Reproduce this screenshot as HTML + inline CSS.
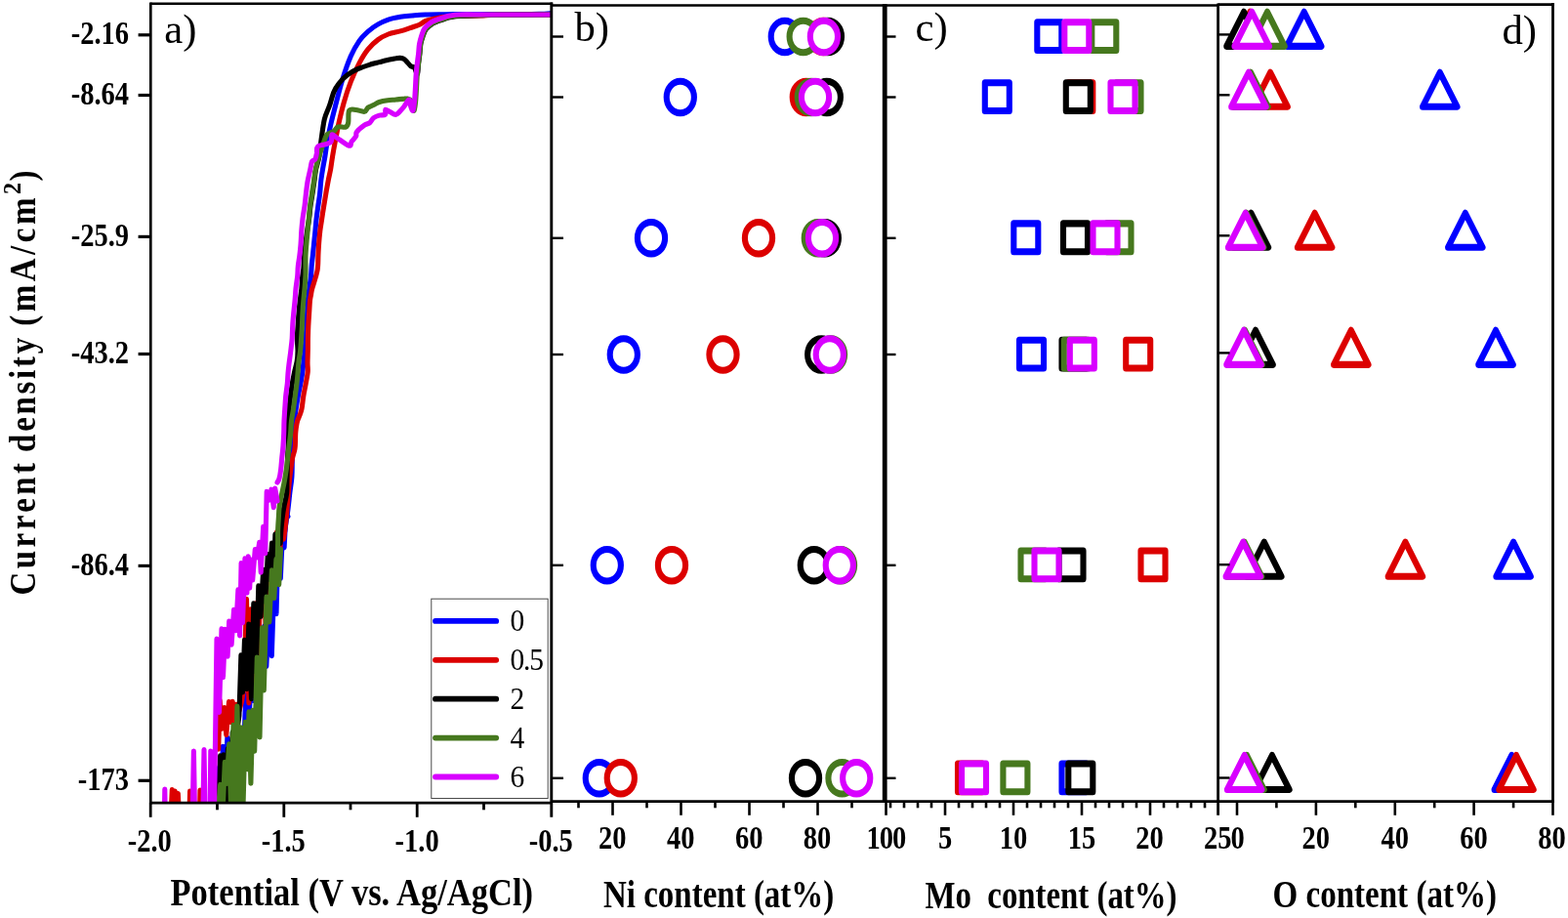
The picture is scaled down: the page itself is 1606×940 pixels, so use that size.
<!DOCTYPE html>
<html lang="en">
<head>
<meta charset="utf-8">
<title>Current density vs potential and Ni, Mo, O content</title>
<style>
html,body{margin:0;padding:0;background:#fff;}
body{width:1606px;height:940px;overflow:hidden;}
svg{display:block;}
</style>
</head>
<body>
<svg width="1606" height="940" viewBox="0 0 1606 940">
<rect width="1606" height="940" fill="#ffffff"/>
<clipPath id="ca"><rect x="154.3" y="0" width="410.5" height="821.5"/></clipPath>
<g clip-path="url(#ca)" fill="none" stroke-width="5.1" stroke-linejoin="round" stroke-linecap="round">
<path d="M566 13.6 C563.7 13.7 559.7 14.2 552 14.4 C544.3 14.6 532 14.6 520 14.7 C508 14.8 490.5 14.7 480 14.7 C469.5 14.7 464.4 14.6 457 14.7 C449.6 14.8 441.3 14.8 435.5 15 C429.7 15.2 426.4 15.6 422.1 16 C417.9 16.4 414.1 16.6 410 17.3 C405.9 18 401.5 18.8 397.7 20.1 C393.9 21.4 390.7 22.9 387.2 24.9 C383.7 26.9 380 29.5 376.8 32.3 C373.6 35.1 370.9 37.7 368 41.9 C365.1 46.1 362.2 50.9 359.3 57.6 C356.4 64.3 353.2 73.6 350.6 82 C348 90.4 345.6 100.4 343.6 108.2 C341.6 116 339.8 122.7 338.4 129.1 C336.9 135.5 335.8 141.3 334.9 146.5 C334 151.7 333.6 155.6 332.9 160 C332.2 164.4 331.3 168.6 330.6 172.8 C329.9 177.1 329.2 181.2 328.7 185.5 C328.2 189.8 328.1 194.1 327.6 198.3 C327.1 202.6 326.4 206.8 325.8 211 C325.2 215.2 324.6 219.6 324.1 223.8 C323.6 228.1 323.3 232.2 322.9 236.5 C322.5 240.8 322 245.1 321.6 249.3 C321.2 253.6 320.7 258.2 320.3 262 C319.9 265.8 319.5 268.5 319.2 272 C318.9 275.5 318.9 278.9 318.5 282.8 C318.1 286.7 317.3 291.2 316.8 295.5 C316.3 299.8 315.7 304.1 315.3 308.3 C314.9 312.6 314.8 316.8 314.6 321 C314.4 325.2 314.2 329.6 314 333.8 C313.8 338.1 313.4 342.2 313.1 346.5 C312.8 350.8 312.5 355.1 312.1 359.3 C311.7 363.6 311.2 368.2 310.8 372 C310.4 375.8 310.2 378.5 309.7 382 C309.2 385.5 308.5 388.9 307.8 392.8 C307.1 396.7 306.1 401.2 305.3 405.5 C304.5 409.8 303.9 414.1 303.2 418.3 C302.5 422.6 301.9 426.8 301.4 431 C300.9 435.2 300.5 437.3 300.2 443.8 C299.9 450.3 299.5 462.6 299.3 470 C299.1 477.4 299.3 482.6 298.9 488.4 C298.5 494.2 297.5 498.9 296.8 505 C296.1 511.1 295.4 518.3 294.5 525 C293.6 531.7 292.5 538.5 291.5 545 C290.5 551.5 289 560.8 288.5 564" stroke="#0000ff"/>
<path d="M222 825.3 L224.5 785.9 L226.7 822.7 L228.3 764.4 L230.5 805.2 L232.9 755.2 L235.7 803.5 L238.5 754.2 L240 824.9 L242.2 741.6 L244.4 785.5 L246.7 748.4 L249.3 777.2 L251.8 711.1 L254.4 748.4 L257.1 697.1 L259.5 717.4 L261.6 681.9 L264 693 L266.2 661.2 L268.3 681.5 L270.8 641.1 L272.8 682.5 L275.7 618.6 L278.3 671.6 L281.1 587.3 L283 628.7 L284.6 569.5 L287.3 592.3 L289.5 544.2 L291.1 560.7 L292.9 525.6 L294.9 528.9" stroke="#0000ff"/>
<path d="M566 15 C556.7 15 522.3 15 510 15.2 C497.7 15.4 498.7 15.8 492 16 C485.3 16.2 476.2 16 470 16.2 C463.8 16.4 459.7 16.6 455 17.2 C450.3 17.8 445.2 19.1 442 19.8 C438.8 20.6 437.6 20.8 435.5 21.7 C433.4 22.6 431.7 24.4 429.1 25.5 C426.5 26.6 423.2 27.5 420 28.6 C416.8 29.7 413.7 30.8 410 31.9 C406.3 33 401.5 33.5 397.7 35 C393.9 36.5 390.7 38 387.2 40.6 C383.7 43.2 380 46.6 376.8 50.6 C373.6 54.6 370.9 59.1 368 64.6 C365.1 70.1 361.9 77 359.3 83.7 C356.7 90.4 354.3 97.7 352.3 104.7 C350.3 111.7 348.7 118.5 347.1 125.6 C345.5 132.7 344 141.3 342.9 147 C341.8 152.7 341.3 155.7 340.6 160 C339.9 164.3 339.4 168.6 338.7 172.8 C337.9 177.1 336.9 181.2 336.1 185.5 C335.3 189.8 334.5 194.1 333.8 198.3 C333.1 202.6 332.4 206.8 331.7 211 C331 215.2 330.3 219.6 329.7 223.8 C329.1 228.1 328.3 232.2 327.8 236.5 C327.3 240.8 326.9 245.1 326.6 249.3 C326.3 253.6 326 258.6 325.9 262 C325.8 265.4 325.8 267.7 325.7 270 C325.6 272.3 325.5 273.9 325.2 276 C324.9 278.1 324.5 279.6 323.6 282.8 C322.7 286.1 320.6 292.3 319.7 295.5 C318.8 298.7 318.9 299.8 318.5 301.9 C318.1 304 317.7 305.1 317.4 308.3 C317.1 311.5 316.9 316.8 316.6 321 C316.3 325.2 316 329.6 315.8 333.8 C315.6 338.1 315.5 342.2 315.4 346.5 C315.3 350.8 315.4 355.1 315.3 359.3 C315.2 363.6 315 368.4 315 372 C315 375.6 315.5 377.5 315.2 381 C314.9 384.5 313.9 388.7 313.2 392.8 C312.5 396.9 311.5 401.2 310.8 405.5 C310.1 409.8 309.7 415.1 309.1 418.3 C308.5 421.5 307.9 422.5 307.2 424.6 C306.4 426.7 305.2 428.9 304.6 431 C304 433.1 303.7 435.3 303.4 437.4 C303.1 439.5 302.9 440.6 302.7 443.8 C302.5 447 302.5 453.5 302.3 456.5 C302.1 459.5 302 459.9 301.5 462 C301 464.1 300.1 466.1 299.5 469.3 C298.9 472.5 298.3 477.1 297.8 481 C297.3 484.9 296.8 488.8 296.4 492.8 C296 496.8 295.7 500.8 295.3 505 C294.9 509.2 294.6 514 294.2 518.3 C293.8 522.6 293.6 526.8 293.2 531 C292.8 535.2 292.1 540.3 291.7 543.8 C291.2 547.3 290.7 550.6 290.5 552" stroke="#dc0000"/>
<path d="M223.7 767.2 L225.2 717.3 L227.6 746.2 L229.9 724.6 L231.8 752.5 L234.5 718.6 L236.3 739.5 L238.2 718.4 L240.3 738.8 L242.2 721.4 L244.9 727.9 L247.4 719 L249.8 705 L252.5 613.3 L254.9 719.9 L257 623.7 L259.5 699.7 L262.1 617.9 L264.7 672.8 L266.5 607.6 L268.2 629.9 L270 593.8 L272.1 638.9 L274.3 580 L277 593.7 L279.4 566.8 L280.9 594 L283.5 544.8 L286 572 L288 547.3 L289.7 552 L291.2 539.9" stroke="#dc0000"/>
<path d="M175.5 826.0 L176.3 808.5 L178 826.0 L179.2 810 L181 826.0 L182.3 812.5 L183 826.0" stroke="#dc0000"/>
<path d="M194.2 826 L194.6 810 L195 826" stroke="#dc0000"/>
<path d="M204.7 826 L205 809 L205.3 826" stroke="#dc0000"/>
<path d="M566 15 C555 15.1 515.8 15.2 500 15.4 C484.2 15.7 477.4 16.1 471.1 16.5 C464.8 16.9 464.7 17.2 462.1 17.6 C459.6 18.1 457.9 18.6 455.8 19.2 C453.7 19.8 451.5 20.6 449.4 21.4 C447.3 22.2 445.2 22.6 443 24.1 C440.8 25.6 437.8 28 436.1 30.2 C434.5 32.4 434 34.8 433.1 37.2 C432.2 39.7 431.4 41.9 430.9 44.9 C430.4 47.9 430.3 51.7 429.9 55.2 C429.5 58.8 428.9 62.8 428.5 66.2 C428.1 69.6 428.2 75.3 427.5 75.8 C426.8 76.3 425.4 70.5 424.3 69.2 C423.2 67.9 422 68.8 420.9 67.9 C419.8 67.1 418.6 65.3 417.5 64.1 C416.4 62.9 415.4 61.4 414.1 60.6 C412.8 59.8 411.2 59.5 409.8 59.4 C408.4 59.3 407.7 59.4 405.6 59.8 C403.5 60.1 399.9 60.9 397 61.5 C394.1 62.1 391.3 62.9 388.5 63.6 C385.7 64.3 383.7 64.6 380 65.8 C376.3 67 370.3 68.9 366.3 70.7 C362.3 72.5 359 74.3 355.8 76.8 C352.6 79.3 349.4 82.6 347.1 85.5 C344.8 88.4 343.5 90.4 341.9 94.2 C340.3 98 339.1 103.6 337.5 108.2 C335.9 112.8 333.8 116 332.3 122.1 C330.9 128.2 329.7 138.5 328.8 144.8 C327.9 151.1 327.9 155.3 327 160 C326.1 164.7 324.6 168.6 323.7 172.8 C322.8 177.1 322.5 181.2 321.9 185.5 C321.3 189.8 320.6 194.1 320 198.3 C319.4 202.6 318.6 206.8 318 211 C317.4 215.2 317.2 219.6 316.6 223.8 C316 228.1 315.2 232.2 314.6 236.5 C314 240.8 313.5 245.1 313 249.3 C312.5 253.6 312 257.8 311.6 262 C311.2 266.2 311.2 271.1 310.9 274.8 C310.6 278.5 309.9 280.6 309.6 284 C309.3 287.4 309.3 291.4 308.9 295.5 C308.5 299.6 307.7 304.1 307.2 308.3 C306.7 312.6 306.4 316.8 306 321 C305.6 325.2 305.4 329.6 305.1 333.8 C304.8 338.1 304.4 342.2 304.4 346.5 C304.4 350.8 305 355.4 305 359.3 C305 363.2 304.8 366.4 304.2 370 C303.6 373.6 302.4 377.2 301.6 381 C300.8 384.8 300 388.7 299.3 392.8 C298.6 396.9 298.2 401.2 297.6 405.5 C297.1 409.8 296.4 414.1 296 418.3 C295.6 422.6 295.6 426.8 295.5 431 C295.4 435.2 295.2 439.6 295.1 443.8 C295.1 448.1 295.3 452.2 295.2 456.5 C295.1 460.8 294.7 465.1 294.5 469.3 C294.3 473.6 294.3 477.9 294.2 482 C294.1 486.1 294 490.1 293.9 494 C293.8 497.9 294.1 501.4 293.6 505.5 C293.1 509.6 291.8 514 291 518.3 C290.2 522.5 289.6 526.8 289.1 531 C288.6 535.2 288.1 539.5 287.8 543.8 C287.5 548 287.3 554.4 287.2 556.5" stroke="#000000"/>
<path d="M223.7 824.8 L225.6 773.8 L227.2 825.9 L229 772.7 L231 821.8 L233.3 766.6 L235.9 823.4 L238.2 749.8 L240.4 790.8 L242.5 750.3 L244.9 733 L246.9 670.8 L248.5 708.9 L250.5 655.2 L252.6 705.6 L254.8 639 L257.5 715.7 L259.8 617.9 L262.5 687.9 L264.8 599.9 L267 631.4 L269.7 583 L271.7 616.3 L274.3 567.5 L275.8 593.4 L278.5 556.1 L280.4 596.9 L281.9 547.1 L284.1 558 L286 540.1" stroke="#000000"/>
<path d="M566 15 C555 15 515.9 15 500 15.2 C484.1 15.4 477.2 15.7 470.9 16 C464.5 16.3 464.4 16.7 461.9 17.1 C459.3 17.6 457.7 18.1 455.6 18.7 C453.5 19.3 451.3 20.1 449.2 20.9 C447.1 21.7 445 22.1 442.8 23.6 C440.6 25.1 437.5 27.5 435.9 29.7 C434.2 31.9 433.8 34.2 432.9 36.7 C432 39.2 431.2 41.8 430.7 44.9 C430.2 48 430.1 51.7 429.7 55.2 C429.3 58.8 428.7 62.8 428.3 66.2 C427.9 69.6 427.6 71.4 427.3 75.8 C427 80.2 426.7 87.9 426.4 92.8 C426.1 97.7 425.9 101.8 425.5 105.2 C425.1 108.6 424.7 112.9 424.1 113.4 C423.5 113.9 422.6 109.8 422 108 C421.4 106.2 421.4 103.7 420.6 102.5 C419.9 101.3 418.6 101.3 417.5 101.1 C416.4 100.9 416.1 100.9 414.1 101.1 C412.1 101.2 408.5 101.7 405.6 102 C402.8 102.3 399.9 102.4 397 102.8 C394.1 103.2 390.7 103.8 388.5 104.5 C386.3 105.2 385.1 106.3 383.7 107 C382.3 107.7 381.1 108.3 380 108.8 C378.9 109.3 377.9 109.3 376.8 110.2 C375.7 111.1 375.3 113.9 373.3 114.3 C371.3 114.7 367.2 112.7 364.6 112.5 C362 112.3 358.9 111.2 357.6 113.4 C356.3 115.6 357.3 122.8 356.7 125.6 C356.1 128.4 355.9 129.3 354.1 130 C352.4 130.7 348.2 129.3 346.2 130 C344.2 130.7 343.8 133 341.9 134.3 C340 135.6 336.6 135.9 334.9 137.8 C333.2 139.8 332.9 142.3 331.5 146 C330.1 149.7 328.2 155.5 326.8 160 C325.4 164.5 324.3 168.6 323.4 172.8 C322.5 177.1 322.1 181.2 321.5 185.5 C320.9 189.8 320.1 194.1 319.5 198.3 C318.9 202.6 318.1 206.8 317.6 211 C317.1 215.2 316.8 219.6 316.4 223.8 C316 228.1 315.5 232.2 315.1 236.5 C314.7 240.8 314.2 245.1 313.9 249.3 C313.5 253.6 313.1 257.8 313 262 C312.9 266.2 313 271.3 313 274.8 C313 278.3 313.1 279.4 312.9 282.8 C312.7 286.2 312.4 291.2 312 295.5 C311.6 299.8 311.2 304.1 310.8 308.3 C310.4 312.6 310.1 316.8 309.9 321 C309.7 325.2 309.6 329.6 309.4 333.8 C309.2 338.1 308.9 342.2 308.6 346.5 C308.3 350.8 308.1 355.1 307.6 359.3 C307.1 363.6 306.2 368.1 305.8 372 C305.4 375.9 305.3 379 305 382.5 C304.7 386 304.4 389 304 392.8 C303.6 396.6 302.9 401.2 302.3 405.5 C301.7 409.8 301.2 414.1 300.6 418.3 C300 422.6 299 426.8 298.5 431 C298 435.2 298 439.6 297.6 443.8 C297.2 448.1 296.6 452.2 296.1 456.5 C295.6 460.8 295.2 465.2 294.7 469.3 C294.2 473.4 293.8 477.1 293.2 481 C292.6 484.9 292.1 488.7 291.3 492.8 C290.6 496.9 289.6 501.2 288.7 505.5 C287.8 509.8 286.8 514 286.2 518.3 C285.6 522.5 285.6 526.8 285.3 531 C285 535.2 284.7 539.5 284.6 543.8 C284.5 548 284.7 552.2 284.6 556.5 C284.6 560.8 284.3 566 284.3 569.3 C284.3 572.5 284.5 574.9 284.5 576" stroke="#46781e"/>
<path d="M224 822.2 L225.7 803.4 L228.5 822 L230.3 780.3 L232.1 802.4 L234.7 761.9 L236.5 824.5 L239 742.4 L240.7 823 L242.9 723 L244.6 821.3 L246.8 744.8 L249.1 821.6 L251.3 739.3 L253.4 787.7 L255 728.7 L256.9 802.1 L258.9 727.4 L260.7 769.3 L263.3 673.1 L266 754.9 L268.5 642.9 L270.3 707 L273 611.1 L275.9 637 L278.4 583.8 L280.8 612.5 L282.9 572.6 L285.7 598.6 L287.5 562.4" stroke="#46781e"/>
<path d="M566 15 C555 15 516 15 500 15 C484 15 476.5 14.8 470 15 C463.5 15.2 463.6 15.7 461 16.1 C458.4 16.6 456.8 17.1 454.7 17.7 C452.6 18.3 450.4 19.1 448.3 19.9 C446.2 20.7 444.1 21.1 441.9 22.6 C439.7 24.1 436.6 26.5 435 28.7 C433.4 30.9 432.9 33 432 35.7 C431.1 38.4 430.2 41.5 429.6 44.7 C429 47.9 429 51.5 428.6 55 C428.2 58.5 427.6 62.6 427.2 66 C426.8 69.4 426.5 71.2 426.2 75.6 C425.9 80 425.6 87.7 425.3 92.6 C425 97.5 424.8 101.6 424.4 105 C424 108.4 423.5 112.2 423 113.2 C422.5 114.2 421.9 112.1 421.4 111 C420.9 109.9 420.4 108 420 106.5 C419.6 105 419.8 101.8 418.8 102.2 C417.8 102.6 415.4 107.1 414.1 108.8 C412.8 110.5 412.4 111.1 411 112.5 C409.6 113.9 407.5 116.9 405.6 117.3 C403.7 117.7 401.4 115.5 399.6 114.7 C397.8 113.9 395.8 111.8 394.9 112.2 C394 112.6 395.6 116.3 394.5 117.3 C393.4 118.3 390.5 117.5 388.5 118.1 C386.5 118.7 384.2 119.5 382.6 120.7 C381 121.9 380.6 124.2 379 125.5 C377.4 126.8 375.6 126.6 373.3 128.2 C371 129.8 366.8 133.3 365.4 135.2 C363.9 137.1 365.5 138 364.6 139.6 C363.7 141.2 361.4 143.2 360.2 144.8 C359 146.4 360.1 149.8 357.6 149.2 C355.1 148.6 348.3 143.2 345.4 141.3 C342.5 139.4 341.1 137.2 340.1 137.8 C339.1 138.4 340.2 143.2 339.3 144.8 C338.4 146.4 337.2 146.5 334.9 147.4 C332.6 148.3 327.2 148.4 325.5 150 C323.8 151.6 324.8 154.8 324.4 157 C323.9 159.2 323.6 161.6 322.8 163 C322 164.4 320.3 163.9 319.5 165.5 C318.7 167.1 318.6 169.5 317.9 172.8 C317.2 176.1 315.9 181.2 315.1 185.5 C314.4 189.8 313.9 194.1 313.4 198.3 C312.9 202.6 312.6 206.8 312 211 C311.4 215.2 310.5 219.6 310 223.8 C309.5 228.1 309.1 232.2 308.8 236.5 C308.5 240.8 308.4 245.1 308.1 249.3 C307.8 253.6 307.3 258.1 306.8 262 C306.3 265.9 305.7 269 305.3 272.5 C304.9 276 305.1 279 304.7 282.8 C304.3 286.6 303.4 291.2 303 295.5 C302.6 299.8 302.4 304.1 302 308.3 C301.6 312.6 301.1 316.8 300.7 321 C300.3 325.2 299.9 329.6 299.7 333.8 C299.4 338.1 299.5 342.2 299.2 346.5 C298.9 350.8 298.3 355.1 297.8 359.3 C297.3 363.6 296.6 368.1 296.1 372 C295.6 375.9 295.3 379 295 382.5 C294.7 386 294.7 389 294.3 392.8 C293.9 396.6 293.1 401.2 292.7 405.5 C292.3 409.8 292.1 414.1 291.8 418.3 C291.5 422.6 291.2 426.8 291 431 C290.8 435.2 290.9 439.6 290.7 443.8 C290.5 448.1 290.3 452.2 290 456.5 C289.7 460.8 289.1 465.2 288.7 469.3 C288.3 473.4 288.1 477.6 287.6 481 C287.2 484.4 286.6 487.8 286 490 C285.4 492.2 284.3 493.3 284 494" stroke="#d800ff"/>
<path d="M219.6 822.9 L222 654.1 L224.5 729.4 L227 643.8 L228.5 693.7 L230.6 644.2 L233.1 672.1 L234.7 636 L237.1 660.1 L239.6 624.2 L241.6 645.8 L243.9 603.8 L245.6 650.9 L247.1 576.5 L248.5 637.6 L250.9 571.8 L252.9 607.2 L254.3 569.9 L255.7 602.1 L257.1 573.1 L258.7 594 L261.3 562.5 L263.3 570.8 L265.7 555.3 L267.2 586.2 L269.7 539.2 L271.7 566.6 L273.2 503.4 L275.8 512.1 L277.9 501.2 L280.3 519.6 L281.7 500 L284.1 513.1" stroke="#d800ff"/>
<path d="M168.5 826 L168.8 808 L169.1 826" stroke="#d800ff"/>
<path d="M197.4 826 L198.4 769 L199.4 826" stroke="#d800ff"/>
<path d="M208 826 L209 767.5 L210 826" stroke="#d800ff"/>
<path d="M215.2 826 L215.8 769 L216.4 826" stroke="#d800ff"/>
</g>
<g fill="#ffffff" stroke-width="6.1" stroke-linejoin="round">
<circle transform="translate(803.8 37.5) scale(1 1.155)" r="14.1" stroke="#0000ff"/>
<circle transform="translate(843.3 37.5) scale(1 1.155)" r="14.1" stroke="#dc0000"/>
<circle transform="translate(847.9 37.5) scale(1 1.155)" r="14.1" stroke="#000000"/>
<circle transform="translate(822.7 37.5) scale(1 1.155)" r="14.1" stroke="#46781e"/>
<circle transform="translate(843.9 37.5) scale(1 1.155)" r="14.1" stroke="#d800ff"/>
<circle transform="translate(696.8 99.5) scale(1 1.155)" r="14.1" stroke="#0000ff"/>
<circle transform="translate(825.8 99.5) scale(1 1.155)" r="14.1" stroke="#dc0000"/>
<circle transform="translate(846.8 99.5) scale(1 1.155)" r="14.1" stroke="#000000"/>
<circle transform="translate(830.8 99.5) scale(1 1.155)" r="14.1" stroke="#46781e"/>
<circle transform="translate(835 99.5) scale(1 1.155)" r="14.1" stroke="#d800ff"/>
<circle transform="translate(667 243.8) scale(1 1.155)" r="14.1" stroke="#0000ff"/>
<circle transform="translate(777 243.8) scale(1 1.155)" r="14.1" stroke="#dc0000"/>
<circle transform="translate(844.8 243.8) scale(1 1.155)" r="14.1" stroke="#000000"/>
<circle transform="translate(837.8 243.8) scale(1 1.155)" r="14.1" stroke="#46781e"/>
<circle transform="translate(842 243.8) scale(1 1.155)" r="14.1" stroke="#d800ff"/>
<circle transform="translate(638.8 363) scale(1 1.155)" r="14.1" stroke="#0000ff"/>
<circle transform="translate(740.5 363) scale(1 1.155)" r="14.1" stroke="#dc0000"/>
<circle transform="translate(841.2 363) scale(1 1.155)" r="14.1" stroke="#000000"/>
<circle transform="translate(851 363) scale(1 1.155)" r="14.1" stroke="#46781e"/>
<circle transform="translate(849.8 363) scale(1 1.155)" r="14.1" stroke="#d800ff"/>
<circle transform="translate(621.8 578.8) scale(1 1.155)" r="14.1" stroke="#0000ff"/>
<circle transform="translate(688 578.8) scale(1 1.155)" r="14.1" stroke="#dc0000"/>
<circle transform="translate(833.8 578.8) scale(1 1.155)" r="14.1" stroke="#000000"/>
<circle transform="translate(861 578.8) scale(1 1.155)" r="14.1" stroke="#46781e"/>
<circle transform="translate(859.8 578.8) scale(1 1.155)" r="14.1" stroke="#d800ff"/>
<circle transform="translate(613.8 796.8) scale(1 1.155)" r="14.1" stroke="#0000ff"/>
<circle transform="translate(635.8 796.8) scale(1 1.155)" r="14.1" stroke="#dc0000"/>
<circle transform="translate(825 796.8) scale(1 1.155)" r="14.1" stroke="#000000"/>
<circle transform="translate(862.5 796.8) scale(1 1.155)" r="14.1" stroke="#46781e"/>
<circle transform="translate(877.2 796.8) scale(1 1.155)" r="14.1" stroke="#d800ff"/>
<rect transform="translate(1074.8 37.1) scale(1 1.155)" x="-12.5" y="-12.5" width="25" height="25" stroke="#0000ff"/>
<rect transform="translate(1130.8 37.1) scale(1 1.155)" x="-12.5" y="-12.5" width="25" height="25" stroke="#46781e"/>
<rect transform="translate(1102.8 37.1) scale(1 1.155)" x="-12.5" y="-12.5" width="25" height="25" stroke="#d800ff"/>
<rect transform="translate(1021.3 99.1) scale(1 1.155)" x="-12.5" y="-12.5" width="25" height="25" stroke="#0000ff"/>
<rect transform="translate(1106.8 99.1) scale(1 1.155)" x="-12.5" y="-12.5" width="25" height="25" stroke="#dc0000"/>
<rect transform="translate(1104.3 99.1) scale(1 1.155)" x="-12.5" y="-12.5" width="25" height="25" stroke="#000000"/>
<rect transform="translate(1156 99.1) scale(1 1.155)" x="-12.5" y="-12.5" width="25" height="25" stroke="#46781e"/>
<rect transform="translate(1150 99.1) scale(1 1.155)" x="-12.5" y="-12.5" width="25" height="25" stroke="#d800ff"/>
<rect transform="translate(1050.8 243.3) scale(1 1.155)" x="-12.5" y="-12.5" width="25" height="25" stroke="#0000ff"/>
<rect transform="translate(1101.5 243.3) scale(1 1.155)" x="-12.5" y="-12.5" width="25" height="25" stroke="#000000"/>
<rect transform="translate(1146 243.3) scale(1 1.155)" x="-12.5" y="-12.5" width="25" height="25" stroke="#46781e"/>
<rect transform="translate(1132 243.3) scale(1 1.155)" x="-12.5" y="-12.5" width="25" height="25" stroke="#d800ff"/>
<rect transform="translate(1056.5 362.6) scale(1 1.155)" x="-12.5" y="-12.5" width="25" height="25" stroke="#0000ff"/>
<rect transform="translate(1165.7 362.6) scale(1 1.155)" x="-12.5" y="-12.5" width="25" height="25" stroke="#dc0000"/>
<rect transform="translate(1100 362.6) scale(1 1.155)" x="-12.5" y="-12.5" width="25" height="25" stroke="#000000"/>
<rect transform="translate(1102.3 362.6) scale(1 1.155)" x="-12.5" y="-12.5" width="25" height="25" stroke="#46781e"/>
<rect transform="translate(1108.3 362.6) scale(1 1.155)" x="-12.5" y="-12.5" width="25" height="25" stroke="#d800ff"/>
<rect transform="translate(1181 578.4) scale(1 1.155)" x="-12.5" y="-12.5" width="25" height="25" stroke="#dc0000"/>
<rect transform="translate(1097 578.4) scale(1 1.155)" x="-12.5" y="-12.5" width="25" height="25" stroke="#000000"/>
<rect transform="translate(1058 578.4) scale(1 1.155)" x="-12.5" y="-12.5" width="25" height="25" stroke="#46781e"/>
<rect transform="translate(1072 578.4) scale(1 1.155)" x="-12.5" y="-12.5" width="25" height="25" stroke="#d800ff"/>
<rect transform="translate(1100 796.4) scale(1 1.155)" x="-12.5" y="-12.5" width="25" height="25" stroke="#0000ff"/>
<rect transform="translate(993.5 796.4) scale(1 1.155)" x="-12.5" y="-12.5" width="25" height="25" stroke="#dc0000"/>
<rect transform="translate(1106.8 796.4) scale(1 1.155)" x="-12.5" y="-12.5" width="25" height="25" stroke="#000000"/>
<rect transform="translate(1039.9 796.4) scale(1 1.155)" x="-12.5" y="-12.5" width="25" height="25" stroke="#46781e"/>
<rect transform="translate(997.5 796.4) scale(1 1.155)" x="-12.5" y="-12.5" width="25" height="25" stroke="#d800ff"/>
<path transform="translate(1335.7 35.4) scale(1 1.155)" d="M0 -20 L17.7 10.35 L-17.7 10.35 Z" stroke="#0000ff"/>
<path transform="translate(1280.4 35.4) scale(1 1.155)" d="M0 -20 L17.7 10.35 L-17.7 10.35 Z" stroke="#dc0000"/>
<path transform="translate(1274 35.4) scale(1 1.155)" d="M0 -20 L17.7 10.35 L-17.7 10.35 Z" stroke="#000000"/>
<path transform="translate(1298 35.4) scale(1 1.155)" d="M0 -20 L17.7 10.35 L-17.7 10.35 Z" stroke="#46781e"/>
<path transform="translate(1282.2 35.4) scale(1 1.155)" d="M0 -20 L17.7 10.35 L-17.7 10.35 Z" stroke="#d800ff"/>
<path transform="translate(1474.8 97.3) scale(1 1.155)" d="M0 -20 L17.7 10.35 L-17.7 10.35 Z" stroke="#0000ff"/>
<path transform="translate(1301.1 97.3) scale(1 1.155)" d="M0 -20 L17.7 10.35 L-17.7 10.35 Z" stroke="#dc0000"/>
<path transform="translate(1281 97.3) scale(1 1.155)" d="M0 -20 L17.7 10.35 L-17.7 10.35 Z" stroke="#46781e"/>
<path transform="translate(1278.9 97.3) scale(1 1.155)" d="M0 -20 L17.7 10.35 L-17.7 10.35 Z" stroke="#d800ff"/>
<path transform="translate(1500.8 241.3) scale(1 1.155)" d="M0 -20 L17.7 10.35 L-17.7 10.35 Z" stroke="#0000ff"/>
<path transform="translate(1346.6 241.3) scale(1 1.155)" d="M0 -20 L17.7 10.35 L-17.7 10.35 Z" stroke="#dc0000"/>
<path transform="translate(1281.4 241.3) scale(1 1.155)" d="M0 -20 L17.7 10.35 L-17.7 10.35 Z" stroke="#000000"/>
<path transform="translate(1276.6 241.3) scale(1 1.155)" d="M0 -20 L17.7 10.35 L-17.7 10.35 Z" stroke="#46781e"/>
<path transform="translate(1275.6 241.3) scale(1 1.155)" d="M0 -20 L17.7 10.35 L-17.7 10.35 Z" stroke="#d800ff"/>
<path transform="translate(1532 361.4) scale(1 1.155)" d="M0 -20 L17.7 10.35 L-17.7 10.35 Z" stroke="#0000ff"/>
<path transform="translate(1383.8 361.4) scale(1 1.155)" d="M0 -20 L17.7 10.35 L-17.7 10.35 Z" stroke="#dc0000"/>
<path transform="translate(1286 361.4) scale(1 1.155)" d="M0 -20 L17.7 10.35 L-17.7 10.35 Z" stroke="#000000"/>
<path transform="translate(1275 361.4) scale(1 1.155)" d="M0 -20 L17.7 10.35 L-17.7 10.35 Z" stroke="#46781e"/>
<path transform="translate(1274 361.4) scale(1 1.155)" d="M0 -20 L17.7 10.35 L-17.7 10.35 Z" stroke="#d800ff"/>
<path transform="translate(1550.1 578.2) scale(1 1.155)" d="M0 -20 L17.7 10.35 L-17.7 10.35 Z" stroke="#0000ff"/>
<path transform="translate(1439.4 578.2) scale(1 1.155)" d="M0 -20 L17.7 10.35 L-17.7 10.35 Z" stroke="#dc0000"/>
<path transform="translate(1294.8 578.2) scale(1 1.155)" d="M0 -20 L17.7 10.35 L-17.7 10.35 Z" stroke="#000000"/>
<path transform="translate(1274.5 578.2) scale(1 1.155)" d="M0 -20 L17.7 10.35 L-17.7 10.35 Z" stroke="#46781e"/>
<path transform="translate(1273.3 578.2) scale(1 1.155)" d="M0 -20 L17.7 10.35 L-17.7 10.35 Z" stroke="#d800ff"/>
<path transform="translate(1548.3 796.5) scale(1 1.155)" d="M0 -20 L17.7 10.35 L-17.7 10.35 Z" stroke="#0000ff"/>
<path transform="translate(1553 796.5) scale(1 1.155)" d="M0 -20 L17.7 10.35 L-17.7 10.35 Z" stroke="#dc0000"/>
<path transform="translate(1302.9 796.5) scale(1 1.155)" d="M0 -20 L17.7 10.35 L-17.7 10.35 Z" stroke="#000000"/>
<path transform="translate(1277 796.5) scale(1 1.155)" d="M0 -20 L17.7 10.35 L-17.7 10.35 Z" stroke="#46781e"/>
<path transform="translate(1274.6 796.5) scale(1 1.155)" d="M0 -20 L17.7 10.35 L-17.7 10.35 Z" stroke="#d800ff"/>
</g>
<rect x="441.8" y="613.2" width="119.4" height="204.3" fill="#ffffff" stroke="#4a4a4a" stroke-width="1"/>
<g stroke-width="5.8" stroke-linecap="round">
<line x1="446" y1="635.9" x2="508.2" y2="635.9" stroke="#0000ff"/>
<line x1="446" y1="675.8" x2="508.2" y2="675.8" stroke="#dc0000"/>
<line x1="446" y1="715.7" x2="508.2" y2="715.7" stroke="#000000"/>
<line x1="446" y1="755.6" x2="508.2" y2="755.6" stroke="#46781e"/>
<line x1="446" y1="795.5" x2="508.2" y2="795.5" stroke="#d800ff"/>
</g>
<g font-family="'Liberation Serif', serif" font-size="29.5" fill="#000">
<text transform="translate(522.4 646.2) scale(1 1.1)">0</text>
<text transform="translate(522.4 686.1) scale(1 1.1)" textLength="34.7" lengthAdjust="spacing">0.5</text>
<text transform="translate(522.4 726) scale(1 1.1)">2</text>
<text transform="translate(522.4 765.9) scale(1 1.1)">4</text>
<text transform="translate(522.4 805.8) scale(1 1.1)">6</text>
</g>
<g stroke="#000" fill="none" stroke-linecap="butt">
<line x1="153" y1="822.2" x2="564.8" y2="822.2" stroke-width="2.7"/>
<line x1="564.8" y1="820.7" x2="1591.9" y2="820.7" stroke-width="2.7"/>
<line x1="154.3" y1="2.4" x2="154.3" y2="823.5" stroke-width="2.7"/>
<line x1="154.3" y1="3.7" x2="566.2" y2="3.7" stroke-width="2.6"/>
<line x1="564.8" y1="2.4" x2="564.8" y2="836.8" stroke-width="2.9"/>
<line x1="564.8" y1="5.5" x2="1247.6" y2="5.5" stroke-width="2.5"/>
<line x1="906.2" y1="4.2" x2="906.2" y2="820.7" stroke-width="4.8"/>
<line x1="1247.6" y1="3.4" x2="1247.6" y2="820.7" stroke-width="2.8"/>
<line x1="1247.6" y1="4.6" x2="1591.9" y2="4.6" stroke-width="2.8"/>
<line x1="1590.5" y1="3" x2="1590.5" y2="822" stroke-width="2.8"/>
</g>
<g stroke="#000" stroke-width="2.4">
<line x1="141.6" y1="35.8" x2="154.3" y2="35.8" stroke-width="3.2"/>
<line x1="141.6" y1="97.5" x2="154.3" y2="97.5" stroke-width="3.2"/>
<line x1="141.6" y1="242.4" x2="154.3" y2="242.4" stroke-width="3.2"/>
<line x1="141.6" y1="362.5" x2="154.3" y2="362.5" stroke-width="3.2"/>
<line x1="141.6" y1="579.4" x2="154.3" y2="579.4" stroke-width="3.2"/>
<line x1="141.6" y1="799.3" x2="154.3" y2="799.3" stroke-width="3.2"/>
<line x1="564.8" y1="37.5" x2="577" y2="37.5"/>
<line x1="906.2" y1="37.5" x2="917.5" y2="37.5"/>
<line x1="564.8" y1="99.5" x2="577" y2="99.5"/>
<line x1="906.2" y1="99.5" x2="917.5" y2="99.5"/>
<line x1="564.8" y1="243.8" x2="577" y2="243.8"/>
<line x1="906.2" y1="243.8" x2="917.5" y2="243.8"/>
<line x1="564.8" y1="363" x2="577" y2="363"/>
<line x1="906.2" y1="363" x2="917.5" y2="363"/>
<line x1="564.8" y1="578.8" x2="577" y2="578.8"/>
<line x1="906.2" y1="578.8" x2="917.5" y2="578.8"/>
<line x1="564.8" y1="796.8" x2="577" y2="796.8"/>
<line x1="906.2" y1="796.8" x2="917.5" y2="796.8"/>
<line x1="1247.6" y1="35.4" x2="1259.5" y2="35.4"/>
<line x1="1247.6" y1="97.3" x2="1259.5" y2="97.3"/>
<line x1="1247.6" y1="241.3" x2="1259.5" y2="241.3"/>
<line x1="1247.6" y1="361.4" x2="1259.5" y2="361.4"/>
<line x1="1247.6" y1="578.2" x2="1259.5" y2="578.2"/>
<line x1="1247.6" y1="796.5" x2="1259.5" y2="796.5"/>
<line x1="154.2" y1="822.2" x2="154.2" y2="836.8" stroke-width="2.8"/>
<line x1="222.5" y1="822.2" x2="222.5" y2="829.3" stroke-width="2.8"/>
<line x1="290.8" y1="822.2" x2="290.8" y2="836.8" stroke-width="2.8"/>
<line x1="359" y1="822.2" x2="359" y2="829.3" stroke-width="2.8"/>
<line x1="427.2" y1="822.2" x2="427.2" y2="836.8" stroke-width="2.8"/>
<line x1="495.5" y1="822.2" x2="495.5" y2="829.3" stroke-width="2.8"/>
<line x1="592.5" y1="820.7" x2="592.5" y2="827.3" stroke-width="2.6"/>
<line x1="627.5" y1="820.7" x2="627.5" y2="834.8" stroke-width="2.6"/>
<line x1="662.5" y1="820.7" x2="662.5" y2="827.3" stroke-width="2.6"/>
<line x1="697.5" y1="820.7" x2="697.5" y2="834.8" stroke-width="2.6"/>
<line x1="732.5" y1="820.7" x2="732.5" y2="827.3" stroke-width="2.6"/>
<line x1="767.5" y1="820.7" x2="767.5" y2="834.8" stroke-width="2.6"/>
<line x1="802.5" y1="820.7" x2="802.5" y2="827.3" stroke-width="2.6"/>
<line x1="837.5" y1="820.7" x2="837.5" y2="834.8" stroke-width="2.6"/>
<line x1="872.5" y1="820.7" x2="872.5" y2="827.3" stroke-width="2.6"/>
<line x1="907.5" y1="820.7" x2="907.5" y2="834.8" stroke-width="2.6"/>
<line x1="912" y1="820.7" x2="912" y2="827.3" stroke-width="2.6"/>
<line x1="926" y1="820.7" x2="926" y2="827.3" stroke-width="2.6"/>
<line x1="940" y1="820.7" x2="940" y2="827.3" stroke-width="2.6"/>
<line x1="954" y1="820.7" x2="954" y2="827.3" stroke-width="2.6"/>
<line x1="968" y1="820.7" x2="968" y2="834.8" stroke-width="2.6"/>
<line x1="982" y1="820.7" x2="982" y2="827.3" stroke-width="2.6"/>
<line x1="996" y1="820.7" x2="996" y2="827.3" stroke-width="2.6"/>
<line x1="1010" y1="820.7" x2="1010" y2="827.3" stroke-width="2.6"/>
<line x1="1024" y1="820.7" x2="1024" y2="827.3" stroke-width="2.6"/>
<line x1="1038" y1="820.7" x2="1038" y2="834.8" stroke-width="2.6"/>
<line x1="1052" y1="820.7" x2="1052" y2="827.3" stroke-width="2.6"/>
<line x1="1066" y1="820.7" x2="1066" y2="827.3" stroke-width="2.6"/>
<line x1="1080" y1="820.7" x2="1080" y2="827.3" stroke-width="2.6"/>
<line x1="1094" y1="820.7" x2="1094" y2="827.3" stroke-width="2.6"/>
<line x1="1108" y1="820.7" x2="1108" y2="834.8" stroke-width="2.6"/>
<line x1="1122" y1="820.7" x2="1122" y2="827.3" stroke-width="2.6"/>
<line x1="1136" y1="820.7" x2="1136" y2="827.3" stroke-width="2.6"/>
<line x1="1150" y1="820.7" x2="1150" y2="827.3" stroke-width="2.6"/>
<line x1="1164" y1="820.7" x2="1164" y2="827.3" stroke-width="2.6"/>
<line x1="1178" y1="820.7" x2="1178" y2="834.8" stroke-width="2.6"/>
<line x1="1192" y1="820.7" x2="1192" y2="827.3" stroke-width="2.6"/>
<line x1="1206" y1="820.7" x2="1206" y2="827.3" stroke-width="2.6"/>
<line x1="1220" y1="820.7" x2="1220" y2="827.3" stroke-width="2.6"/>
<line x1="1234" y1="820.7" x2="1234" y2="827.3" stroke-width="2.6"/>
<line x1="1247.6" y1="820.7" x2="1247.6" y2="834.8" stroke-width="2.8"/>
<line x1="1267" y1="820.7" x2="1267" y2="834.8" stroke-width="2.6"/>
<line x1="1307.4" y1="820.7" x2="1307.4" y2="827.3" stroke-width="2.6"/>
<line x1="1347.9" y1="820.7" x2="1347.9" y2="834.8" stroke-width="2.6"/>
<line x1="1388.3" y1="820.7" x2="1388.3" y2="827.3" stroke-width="2.6"/>
<line x1="1428.8" y1="820.7" x2="1428.8" y2="834.8" stroke-width="2.6"/>
<line x1="1469.2" y1="820.7" x2="1469.2" y2="827.3" stroke-width="2.6"/>
<line x1="1509.6" y1="820.7" x2="1509.6" y2="834.8" stroke-width="2.6"/>
<line x1="1550.1" y1="820.7" x2="1550.1" y2="827.3" stroke-width="2.6"/>
<line x1="1590.5" y1="820.7" x2="1590.5" y2="834.8" stroke-width="2.6"/>
</g>
<g font-family="'Liberation Serif', serif" fill="#000">
<text transform="translate(132 45.1) scale(1 1.145)" font-size="28.5" text-anchor="end" font-weight="bold">-2.16</text>
<text transform="translate(132 106.9) scale(1 1.145)" font-size="28.5" text-anchor="end" font-weight="bold">-8.64</text>
<text transform="translate(132 251.8) scale(1 1.145)" font-size="28.5" text-anchor="end" font-weight="bold">-25.9</text>
<text transform="translate(132 371.9) scale(1 1.145)" font-size="28.5" text-anchor="end" font-weight="bold">-43.2</text>
<text transform="translate(132 588.8) scale(1 1.145)" font-size="28.5" text-anchor="end" font-weight="bold">-86.4</text>
<text transform="translate(132 808.7) scale(1 1.145)" font-size="28.5" text-anchor="end" font-weight="bold">-173</text>
<text transform="translate(153.3 872.2) scale(1 1.145)" font-size="28.5" text-anchor="middle" font-weight="bold">-2.0</text>
<text transform="translate(290.3 872.2) scale(1 1.145)" font-size="28.5" text-anchor="middle" font-weight="bold">-1.5</text>
<text transform="translate(427.1 872.2) scale(1 1.145)" font-size="28.5" text-anchor="middle" font-weight="bold">-1.0</text>
<text transform="translate(564.3 872.2) scale(1 1.145)" font-size="28.5" text-anchor="middle" font-weight="bold">-0.5</text>
<text transform="translate(627.3 868.8) scale(1 1.145)" font-size="28.5" text-anchor="middle" font-weight="bold">20</text>
<text transform="translate(697.2 868.8) scale(1 1.145)" font-size="28.5" text-anchor="middle" font-weight="bold">40</text>
<text transform="translate(767.2 868.8) scale(1 1.145)" font-size="28.5" text-anchor="middle" font-weight="bold">60</text>
<text transform="translate(837.1 868.8) scale(1 1.145)" font-size="28.5" text-anchor="middle" font-weight="bold">80</text>
<text transform="translate(907.9 868.8) scale(1 1.145)" font-size="28.5" text-anchor="middle" font-weight="bold" textLength="40.9" lengthAdjust="spacing">100</text>
<text transform="translate(968.2 868.8) scale(1 1.145)" font-size="28.5" text-anchor="middle" font-weight="bold">5</text>
<text transform="translate(1038 868.8) scale(1 1.145)" font-size="28.5" text-anchor="middle" font-weight="bold">10</text>
<text transform="translate(1108 868.8) scale(1 1.145)" font-size="28.5" text-anchor="middle" font-weight="bold">15</text>
<text transform="translate(1177.5 868.8) scale(1 1.145)" font-size="28.5" text-anchor="middle" font-weight="bold">20</text>
<text transform="translate(1247.3 868.8) scale(1 1.145)" font-size="28.5" text-anchor="middle" font-weight="bold">25</text>
<text transform="translate(1267.6 868.8) scale(1 1.145)" font-size="28.5" text-anchor="middle" font-weight="bold">0</text>
<text transform="translate(1347.8 868.8) scale(1 1.145)" font-size="28.5" text-anchor="middle" font-weight="bold">20</text>
<text transform="translate(1428.7 868.8) scale(1 1.145)" font-size="28.5" text-anchor="middle" font-weight="bold">40</text>
<text transform="translate(1509.5 868.8) scale(1 1.145)" font-size="28.5" text-anchor="middle" font-weight="bold">60</text>
<text transform="translate(1589.5 868.8) scale(1 1.145)" font-size="28.5" text-anchor="middle" font-weight="bold">80</text>
<text transform="translate(174.5 926.7) scale(1 1.15)" font-size="34.3" text-anchor="start" font-weight="bold" textLength="371.5" lengthAdjust="spacingAndGlyphs">Potential (V vs. Ag/AgCl)</text>
<text transform="translate(618 929.2) scale(1 1.15)" font-size="34.3" text-anchor="start" font-weight="bold" textLength="236.3" lengthAdjust="spacingAndGlyphs">Ni content (at%)</text>
<text transform="translate(947.5 929.6) scale(1 1.15)" font-size="34.3" text-anchor="start" font-weight="bold" textLength="258" lengthAdjust="spacingAndGlyphs" xml:space="preserve" style="white-space:pre">Mo  content (at%)</text>
<text transform="translate(1303.5 929.4) scale(1 1.15)" font-size="34.3" text-anchor="start" font-weight="bold" textLength="229.5" lengthAdjust="spacingAndGlyphs">O content (at%)</text>
<text transform="translate(35.5 609.5) rotate(-90) scale(1 1.17)" font-size="33" font-weight="bold" letter-spacing="3.45">Current</text>
<text transform="translate(35.5 462.9) rotate(-90) scale(1 1.17)" font-size="33" font-weight="bold" letter-spacing="2.7">density</text>
<text transform="translate(35.5 333.7) rotate(-90) scale(1 1.17)" font-size="33" font-weight="bold" letter-spacing="3.5">(mA/cm</text>
<text transform="translate(20.6 199) rotate(-90) scale(1 1.09)" font-size="24" font-weight="bold" letter-spacing="0">2</text>
<text transform="translate(35.5 185.6) rotate(-90) scale(1 1.17)" font-size="33" font-weight="bold" letter-spacing="0">)</text>
<text x="168.3" y="43.7" font-size="42.7">a)</text>
<text x="588.4" y="42.4" font-size="42.7">b)</text>
<text x="937.5" y="41.9" font-size="42.7">c)</text>
<text x="1538.5" y="45" font-size="42.7">d)</text>
</g>
</svg>
</body>
</html>
